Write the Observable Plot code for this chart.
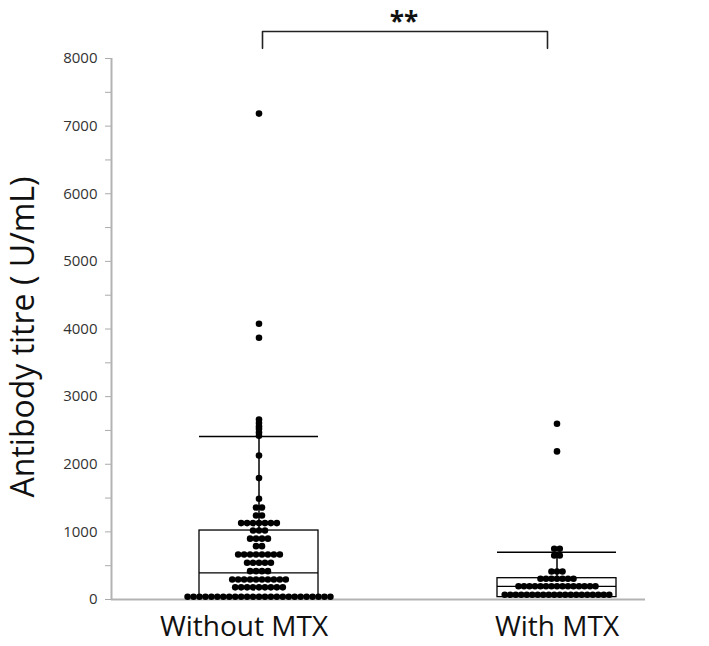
<!DOCTYPE html>
<html><head><meta charset="utf-8">
<script src="https://cdn.jsdelivr.net/npm/d3@7"></script>
<script src="https://cdn.jsdelivr.net/npm/@observablehq/plot@0.6"></script>
<style>
body{margin:0;background:#fff}
#chart svg{display:block;font-family:"Open Sans",sans-serif;background:#fff}
</style></head><body><div id="chart"></div>
<script>
// ---- data ----
const categories = ["Without MTX", "With MTX"];
const withoutMTX = [
  40,40,40,40,40,40,40,40,40,40,40,40,40,40,40,40,40,40,40,40,40,40,40,40,40,
  180,180,180,180,180,180,180,180,180,
  296,296,296,296,296,296,296,296,296,296,
  419,419,419,419,
  543,543,543,543,543,
  666,666,666,666,666,666,666,666,
  789,789,
  900,900,900,900,
  1020,1020,1020,
  1130,1130,1130,1130,1130,1130,1130,
  1243,1243,
  1360,1360,
  1490, 1795, 2130,
  2420, 2470, 2520, 2560, 2610, 2660,
  3871, 4078, 7185
];
const withMTX = [
  70,70,70,70,70,70,70,70,70,70,70,70,70,70,70,70,70,70,70,70,
  197,197,197,197,197,197,197,197,197,197,197,197,197,197,197,
  306,306,306,306,306,306,306,
  414,414,414,
  650,650,
  750,750,
  2190, 2600
];
const boxQ1 = [40, 35];
const boxMedian = [395, 195];
const boxQ3 = [1020, 315];
const whiskerTop = [2410, 700];
const yTicks = [0,500,1000,1500,2000,2500,3000,3500,4000,4500,5000,5500,6000,6500,7000,7500,8000];
const significance = "**";
const yLabel = "Antibody titre ( U/mL)";

// ---- layout constants ----
const W = 709, H = 646;
const mL = 111, mR = 64, mT = 58, mB = 47;
const PX = 298;                 // pixels per group step
const C0 = 258.5;               // pixel position of first group
const XMIN = (mL - C0) / PX, XMAX = (W - mR - C0) / PX;
const BOXW = 59.5 / PX;
const spacing = [5.95, 5.5];
const BRACKET_LOW = 8150, BRACKET_HIGH = 8400;

function swarm(values, gi) {
  const out = [];
  for (const [v, arr] of d3.group(values, d => d)) {
    const n = arr.length;
    arr.forEach((_, k) => out.push({group: gi, value: v, off: (k - (n - 1) / 2) * spacing[gi] / PX}));
  }
  return out;
}
const dots = [...swarm(withoutMTX, 0), ...swarm(withMTX, 1)];
const boxes = categories.map((c, i) => ({i, q1: boxQ1[i], med: boxMedian[i], q3: boxQ3[i], wt: whiskerTop[i]}));
const insetL = 3.5 / PX, insetR = 9.5 / PX;
const bracket = [
  {x: 0 + insetL, y: BRACKET_LOW}, {x: 0 + insetL, y: BRACKET_HIGH},
  {x: 1 - insetR, y: BRACKET_HIGH}, {x: 1 - insetR, y: BRACKET_LOW}
];

const chart = Plot.plot({
  width: W, height: H,
  marginLeft: mL, marginRight: mR, marginTop: mT, marginBottom: mB,
  x: {domain: [XMIN, XMAX], axis: null},
  y: {domain: [0, 8000], axis: null},
  marks: [
    Plot.axisY({ticks: yTicks, tickFormat: d => d % 1000 === 0 ? String(d) : "", tickSize: 6, tickPadding: 8,
      stroke: "#aaa", fill: "#333", fontSize: 15, label: null}),
    Plot.ruleX([XMIN], {stroke: "#b3b3b3", strokeWidth: 2, y1: 0, y2: 8000}),
    Plot.ruleY([0], {stroke: "#b3b3b3", strokeWidth: 2}),
    Plot.rect(boxes, {x1: d => d.i - BOXW, x2: d => d.i + BOXW, y1: "q1", y2: "q3", fill: "none", stroke: "black", strokeWidth: 1.3}),
    Plot.ruleY(boxes, {y: "med", x1: d => d.i - BOXW, x2: d => d.i + BOXW, stroke: "black", strokeWidth: 1.3}),
    Plot.ruleX(boxes, {x: "i", y1: "q3", y2: "wt", stroke: "black", strokeWidth: 1.5}),
    Plot.ruleY(boxes, {y: "wt", x1: d => d.i - BOXW, x2: d => d.i + BOXW, stroke: "black", strokeWidth: 1.5}),
    Plot.dot(dots, {x: d => d.group + d.off, y: "value", r: 3.3, fill: "black"}),
    Plot.line(bracket, {x: "x", y: "y", stroke: "#222", strokeWidth: 1.6}),
    Plot.text([significance], {x: 0.5, y: BRACKET_HIGH, dy: -9, dx: -4, fontSize: 26, fontWeight: "bold", fill: "#111"}),
    Plot.text([categories[0]], {x: 0, y: 0, dy: 28, dx: -15, fontSize: 28, fill: "#111"}),
    Plot.text([categories[1]], {x: 1, y: 0, dy: 28, fontSize: 28, fill: "#111"}),
    Plot.text([yLabel], {frameAnchor: "left", textAnchor: "middle", dx: -88, dy: 8, rotate: -90, fontSize: 32, fill: "#111"})
  ]
});
document.getElementById("chart").appendChild(chart);
</script></body></html>
